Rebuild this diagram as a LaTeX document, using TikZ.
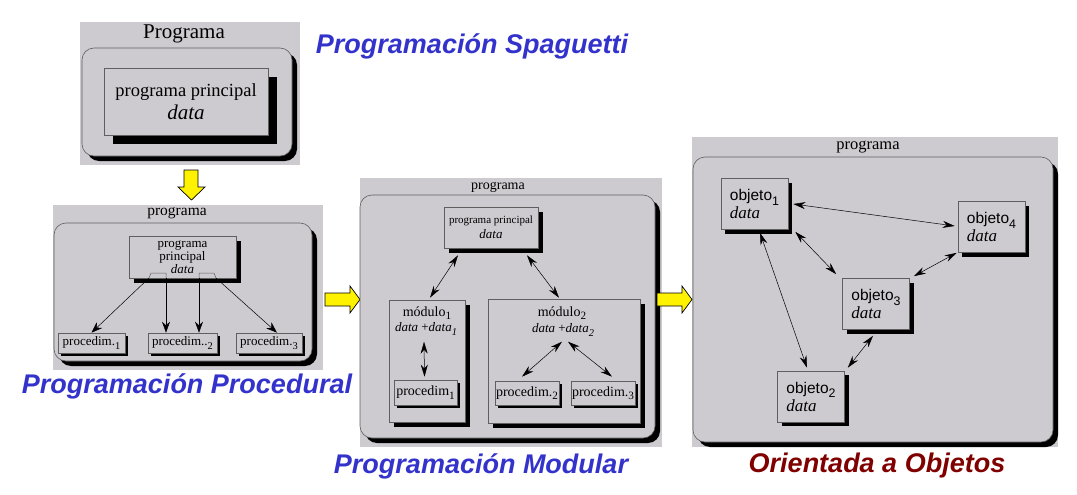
\documentclass[tikz,border=0pt]{standalone}
\usepackage{fontspec}
\usepackage{graphicx}
\setmainfont{Liberation Serif}
\setsansfont{Liberation Sans}
\usetikzlibrary{shadows,arrows.meta}

\definecolor{panelgray}{RGB}{205,203,208}
\definecolor{edgegray}{RGB}{95,95,95}
\definecolor{titleblue}{RGB}{51,51,204}
\definecolor{titlered}{RGB}{128,0,0}

% lowered index, as in the scanned figure
\newcommand\lowidx[1]{\raisebox{-0.55ex}{\scalebox{0.8}{#1}}}

\tikzset{
  frame/.style={rectangle, rounded corners=12pt, fill=panelgray,
    draw=edgegray, line width=0.6pt,
    drop shadow={shadow xshift=5pt, shadow yshift=-5pt, fill=black, opacity=1}},
  box/.style={rectangle, fill=panelgray, draw=edgegray, line width=0.6pt,
    inner sep=1pt,
    drop shadow={shadow xshift=#1, shadow yshift=-#1, fill=black, opacity=1}},
  box/.default=4pt,
  title/.style={font=\sffamily\bfseries\itshape\fontsize{27}{30}\selectfont,
    text=titleblue, inner sep=0pt},
  yarrow/.style={fill=yellow, draw=black, line width=0.7pt},
  link/.style={{Stealth[length=12pt,width=7pt]}-{Stealth[length=12pt,width=7pt]},
    line width=0.5pt},
  call/.style={-{Stealth[length=11pt,width=8pt]}, line width=0.5pt}
}

\begin{document}
\begin{tikzpicture}[x=1pt, y=-1pt]
\useasboundingbox (0,0) rectangle (1077,495);

% grey backgrounds
\fill[panelgray] (80,22) rectangle (300,165);
\fill[panelgray] (53,205) rectangle (323,370);
\fill[panelgray] (360,178) rectangle (662,447);
\fill[panelgray] (692,137) rectangle (1058,447);

% --- spaghetti
\node[frame, minimum width=210, minimum height=108] (f1) at (187,102) {};
\node[font=\fontsize{21}{23}\selectfont] (h1) at (184,34) {Programa};
\node[box=9pt, minimum width=164, minimum height=67, align=center]
  (pp1) at (186,101.5)
  {\fontsize{18.5}{20}\selectfont programa principal\\[4pt]
   \fontsize{21}{22}\selectfont\textit{data}};
\node[title] (t1) at (472,46) {Programación Spaguetti};

\draw[yarrow] (184,170) -- (198,170) -- (198,187) -- (205,187) -- (191.5,200)
  -- (178,187) -- (184,187) -- cycle;

% --- procedural
\node[frame, minimum width=258, minimum height=138] (f2) at (183,292) {};
\node[font=\fontsize{15.5}{17}\selectfont] (h2) at (177,213) {programa};
\node[box=5pt, minimum width=107, minimum height=42, align=center,
  font=\fontsize{13}{11.5}\selectfont] (pp2) at (182.5,257)
  {programa\\principal\\\textit{data}};
\node[box=3pt, minimum width=67, minimum height=20,
  font=\fontsize{13}{15}\selectfont] (p1) at (91.5,343)
  {procedim.\lowidx{1}};
\node[box=3pt, minimum width=69, minimum height=20,
  font=\fontsize{13}{15}\selectfont] (p2) at (182.5,343)
  {procedim..\lowidx{2}};
\node[box=3pt, minimum width=66, minimum height=20,
  font=\fontsize{13}{15}\selectfont] (p3) at (269,343)
  {procedim.\lowidx{3}};
\coordinate (a1) at (149,278);
\coordinate (a2) at (166,278);
\coordinate (a3) at (199,278);
\coordinate (a4) at (216,278);
\draw[edgegray, line width=0.5pt] (a1) -- (151,273) -- (166,273) -- (a2);
\draw[edgegray, line width=0.5pt] (a3) -- (199,273) -- (214,273) -- (a4);
\draw[call] (a1) -- (p1.north);
\draw[call] (a2) -- ([xshift=-16.5pt]p2.north);
\draw[call] (a3) -- ([xshift=16.5pt]p2.north);
\draw[call] (a4) -- ([xshift=8pt]p3.north);
\node[title] (t2) at (187,386) {Programación Procedural};

\draw[yarrow] (325,293) -- (350,293) -- (350,286) -- (360,299.5) -- (350,313)
  -- (350,306) -- (325,306) -- cycle;

% --- modular
\node[frame, minimum width=295, minimum height=243] (f3) at (507.5,316.5) {};
\node[font=\fontsize{14}{16}\selectfont] (h3) at (498,187) {programa};
\node[box=5pt, minimum width=94, minimum height=41, align=center]
  (mm) at (491,227.5)
  {\fontsize{11}{12}\selectfont programa principal\\[3pt]
   \fontsize{13}{14}\selectfont\textit{data}};
\node[box=5pt, minimum width=76, minimum height=122] (m1) at (427,361) {};
\node[box=5pt, minimum width=152, minimum height=124] (m2) at (564,361) {};
\node[font=\fontsize{14}{16}\selectfont] (m1t) at (427,313) {módulo\lowidx{1}};
\node[font=\fontsize{13}{15}\selectfont] (d1) at (426,329)
  {\textit{data} +\textit{data}\lowidx{\textit{1}}};
\node[font=\fontsize{14}{16}\selectfont] (m2t) at (562,313) {módulo\lowidx{2}};
\node[font=\fontsize{13}{15}\selectfont] (d2) at (563,330)
  {\textit{data} +\textit{data}\lowidx{\textit{2}}};
\node[box=3pt, minimum width=63, minimum height=25,
  font=\fontsize{14}{16}\selectfont] (pa) at (425.5,392.5)
  {procedim\lowidx{1}};
\node[box=3pt, minimum width=64, minimum height=24,
  font=\fontsize{14}{16}\selectfont] (pb) at (527,393)
  {procedim.\lowidx{2}};
\node[box=3pt, minimum width=60, minimum height=24,
  font=\fontsize{14}{16}\selectfont] (pc) at (603,393)
  {procedim.\lowidx{3}};
\draw[link] ([shift={(-33,7)}]mm.south) -- ([shift={(3,-2)}]m1.north);
\draw[link] ([shift={(36,7)}]mm.south) -- ([shift={(-5,-1)}]m2.north);
\draw[link] ([shift={(-2,3)}]d1.south) -- ([shift={(-1,-3)}]pa.north);
\draw[link] ([shift={(-1,2)}]d2.south) -- ([shift={(-5,-4)}]pb.north);
\draw[link] ([shift={(5,2)}]d2.south) -- ([shift={(9,-4)}]pc.north);
\node[title] (t3) at (481,466) {Programación Modular};

\draw[yarrow] (657,293) -- (682,293) -- (682,286) -- (692,299.5) -- (682,313)
  -- (682,306) -- (657,306) -- cycle;

% --- objects
\node[frame, minimum width=360, minimum height=285] (f4) at (873,299.5) {};
\node[font=\fontsize{16.5}{18}\selectfont] (h4) at (868,147) {programa};
\tikzset{obj/.style={box=4pt, align=left, inner sep=0pt,
  minimum width=67, minimum height=51,
  font=\sffamily\fontsize{15.5}{18}\selectfont}}
\newcommand\objtext[1]{objeto\lowidx{#1}\\
  {\rmfamily\itshape\fontsize{17}{18}\selectfont data}}
\node[obj] (o1) at (754.5,204) {\objtext{1}};
\node[obj] (o4) at (991.5,227) {\objtext{4}};
\node[obj] (o3) at (876,304) {\objtext{3}};
\node[obj] (o2) at (811,396.5) {\objtext{2}};
\draw[link] ([shift={(5,0)}]o1.east) -- ([shift={(-3,-1)}]o4.west);
\draw[link] ([shift={(7,2)}]o1.south east) -- ([shift={(-6,-4)}]o3.north west);
\draw[link] ([shift={(-1,0)}]o4.south west) -- ([shift={(4,-2)}]o3.north east);
\draw[link] ([shift={(5.5,3)}]o1.south) -- ([shift={(-4,-3)}]o2.north);
\draw[link] ([shift={(-3,6)}]o3.south) -- ([shift={(3,-3)}]o2.north east);
\node[title, text=titlered] (t4) at (877,466) {Orientada a Objetos};
\end{tikzpicture}
\end{document}
